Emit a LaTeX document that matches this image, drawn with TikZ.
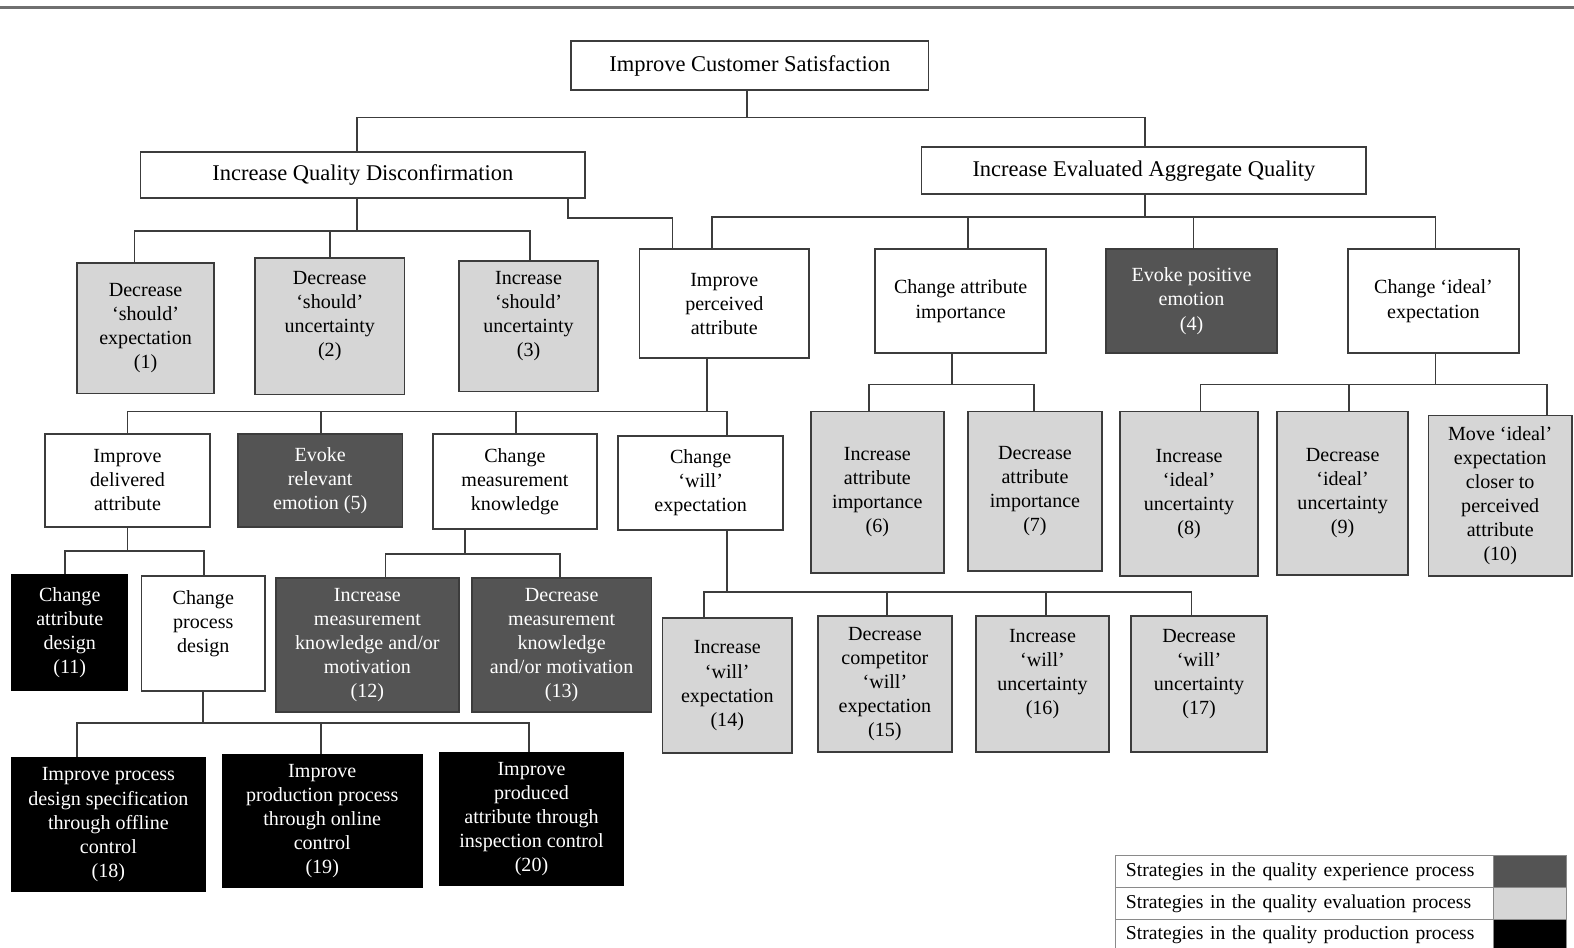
\documentclass[tikz,border=0pt]{standalone}
\usepackage{fontspec}
\setmainfont{Liberation Serif}
\definecolor{lgray}{HTML}{D6D6D6}
\definecolor{dgray}{HTML}{545454}
\definecolor{edgec}{HTML}{3C3C3C}
\definecolor{rulec}{HTML}{707070}
\definecolor{legc}{HTML}{8A8A8A}
\begin{document}
\begin{tikzpicture}[x=0.5pt,y=-0.5pt,
  box/.style={draw=edgec, line width=0.9pt, align=center, inner sep=1pt, font=\fontsize{10}{12}\selectfont},
  wbox/.style={box, fill=white},
  gbox/.style={box, fill=lgray},
  dbox/.style={box, fill=dgray, text=white},
  kbox/.style={box, fill=black, draw=black, text=white},
  topbox/.style={box, fill=white, font=\fontsize{11.2}{13}\selectfont},
  conn/.style={draw=edgec, line width=0.9pt},
  sz/.style 2 args={minimum width=#1, minimum height=#2},
  legtext/.style={draw=legc, line width=0.6pt, anchor=north west, inner xsep=5pt, inner ysep=0pt, text width=178pt, align=left, minimum height=15.75pt, font=\fontsize{9.8}{12}\selectfont},
  legsw/.style={draw=legc, line width=0.6pt, anchor=north west, inner sep=0pt, minimum width=36.5pt, minimum height=15.75pt}
]
\useasboundingbox (0,0) rectangle (1568,944);
\draw[rulec, line width=1.5pt] (0,7) -- (1568,7);

% ---- level 0 / 1
\node[topbox, sz={178pt}{24.5pt}] (root) at (747,65.5) {Improve Customer Satisfaction};
\node[topbox, sz={221.5pt}{23pt}] (iqd) at (361.5,174.5) {Increase Quality Disconfirmation};
\node[topbox, sz={221.5pt}{23.5pt}] (ieaq) at (1139.5,170) {Increase Evaluated Aggregate Quality};

% ---- level 2
\node[gbox, sz={68pt}{65pt}] (b1) at (145,327) {Decrease\\‘should’\\expectation\\(1)};
\node[gbox, sz={74.5pt}{68pt}] (b2) at (328.5,325) {Decrease\\‘should’\\uncertainty\\(2)\\\mbox{}};
\node[gbox, sz={69.5pt}{65pt}] (b3) at (526.5,325) {Increase\\‘should’\\uncertainty\\(3)\\\mbox{}};
\node[wbox, sz={84.5pt}{54.5pt}] (ipa) at (721.5,302.5) {Improve\\perceived\\attribute};
\node[wbox, sz={85pt}{52pt}] (cai) at (957,300) {Change attribute\\importance};
\node[dbox, sz={85pt}{52pt}] (epe) at (1187,300) {Evoke positive\\emotion\\(4)};
\node[wbox, sz={85pt}{52pt}] (cie) at (1428,300) {Change ‘ideal’\\expectation};

% ---- level 3
\node[wbox, sz={82pt}{46.5pt}] (ida) at (127,478.5) {Improve\\delivered\\attribute};
\node[dbox, sz={82pt}{46.5pt}] (ere) at (319,478.5) {Evoke\\relevant\\emotion (5)};
\node[wbox, sz={82pt}{47.5pt}] (cmk) at (513,479.5) {Change\\measurement\\knowledge};
\node[wbox, sz={82pt}{47pt}] (cwe) at (698,481) {Change\\‘will’\\expectation};
\node[gbox, sz={66pt}{80.5pt}] (b6) at (874,490.5) {Increase\\attribute\\importance\\(6)};
\node[gbox, sz={67pt}{79.5pt}] (b7) at (1031,489.5) {Decrease\\attribute\\importance\\(7)};
\node[gbox, sz={68.5pt}{82pt}] (b8) at (1184.5,492) {Increase\\‘ideal’\\uncertainty\\(8)};
\node[gbox, sz={65.5pt}{81.5pt}] (b9) at (1337.5,491.5) {Decrease\\‘ideal’\\uncertainty\\(9)};
\node[gbox, sz={71.5pt}{80pt}] (b10) at (1494.5,494) {Move ‘ideal’\\expectation\\closer to\\perceived\\attribute\\(10)};

% ---- level 4
\node[kbox, sz={57.5pt}{57pt}] (b11) at (69.5,630) {Change\\attribute\\design\\(11)};
\node[wbox, sz={61.5pt}{57pt}] (cpd) at (202.5,631) {Change\\process\\design\\\mbox{}};
\node[dbox, sz={91pt}{66.5pt}] (b12) at (366,642.5) {Increase\\measurement\\knowledge and/or\\motivation\\(12)};
\node[dbox, sz={89.5pt}{66.5pt}] (b13) at (559.5,642.5) {Decrease\\measurement\\knowledge\\and/or motivation\\(13)};
\node[gbox, sz={64.5pt}{67pt}] (b14) at (724.5,683) {Increase\\‘will’\\expectation\\(14)};
\node[gbox, sz={66.5pt}{67.5pt}] (b15) at (881.5,681.5) {Decrease\\competitor\\‘will’\\expectation\\(15)};
\node[gbox, sz={66.5pt}{67.5pt}] (b16) at (1038.5,681.5) {Increase\\‘will’\\uncertainty\\(16)\\\mbox{}};
\node[gbox, sz={67.5pt}{67.5pt}] (b17) at (1194.5,681.5) {Decrease\\‘will’\\uncertainty\\(17)\\\mbox{}};

% ---- level 5
\node[kbox, sz={96pt}{66.5pt}] (b18) at (108,821.5) {Improve process\\design specification\\through offline\\control\\(18)};
\node[kbox, sz={99pt}{66pt}] (b19) at (321,818) {Improve\\production process\\through online\\control\\(19)};
\node[kbox, sz={91.5pt}{66pt}] (b20) at (529.5,816) {Improve\\produced\\attribute through\\inspection control\\(20)};

% ---- connectors
\draw[conn] (root.south -| 744,0) -- (744,117);
\draw[conn] (iqd.north -| 356,0) |- (1141,117) -- (ieaq.north -| 1141,0);

\draw[conn] (iqd.south -| 356,0) -- (356,230);
\draw[conn] (b1.north -| 134,0) |- (528,230) -- (b3.north -| 528,0);
\draw[conn] (329,230) -- (b2.north -| 329,0);

\draw[conn] (iqd.south -| 566,0) |- (670,217) -- (ipa.north -| 670,0);

\draw[conn] (ieaq.south -| 1141,0) -- (1141,216);
\draw[conn] (ipa.north -| 709,0) |- (1430,216) -- (cie.north -| 1430,0);
\draw[conn] (964,216) -- (cai.north -| 964,0);
\draw[conn] (1189,216) -- (epe.north -| 1189,0);

\draw[conn] (ipa.south -| 704,0) -- (704,410);
\draw[conn] (ida.north -| 127,0) |- (724,410) -- (cwe.north -| 724,0);
\draw[conn] (320,410) -- (ere.north -| 320,0);
\draw[conn] (514,410) -- (cmk.north -| 514,0);

\draw[conn] (cai.south -| 948,0) -- (948,383);
\draw[conn] (b6.north -| 866,0) |- (1030,383) -- (b7.north -| 1030,0);

\draw[conn] (cie.south -| 1430,0) -- (1430,383);
\draw[conn] (b8.north -| 1196,0) |- (1541,383) -- (b10.north -| 1541,0);
\draw[conn] (1344,383) -- (b9.north -| 1344,0);

\draw[conn] (ida.south -| 127,0) -- (127,549);
\draw[conn] (b11.north -| 65,0) |- (203,549) -- (cpd.north -| 203,0);

\draw[conn] (cmk.south -| 463,0) -- (463,552);
\draw[conn] (b12.north -| 384,0) |- (558,552) -- (b13.north -| 558,0);

\draw[conn] (cwe.south -| 724,0) -- (724,590);
\draw[conn] (b14.north -| 701,0) |- (1187,590) -- (b17.north -| 1187,0);
\draw[conn] (884,590) -- (b15.north -| 884,0);
\draw[conn] (1042,590) -- (b16.north -| 1042,0);

\draw[conn] (cpd.south -| 202,0) -- (202,720);
\draw[conn] (b18.north -| 77,0) |- (527,720) -- (b20.north -| 527,0);
\draw[conn] (320,720) -- (b19.north -| 320,0);

% ---- legend
\node[legtext] (l1) at (1111,852) {Strategies in the quality experience process};
\node[legtext] (l2) at (1111,883.5) {Strategies in the quality evaluation process};
\node[legtext] (l3) at (1111,915) {Strategies in the quality production process};
\node[legsw, fill=dgray] (s1) at (1487,852) {};
\node[legsw, fill=lgray] (s2) at (1487,883.5) {};
\node[legsw, fill=black] (s3) at (1487,915) {};
\end{tikzpicture}
\end{document}
